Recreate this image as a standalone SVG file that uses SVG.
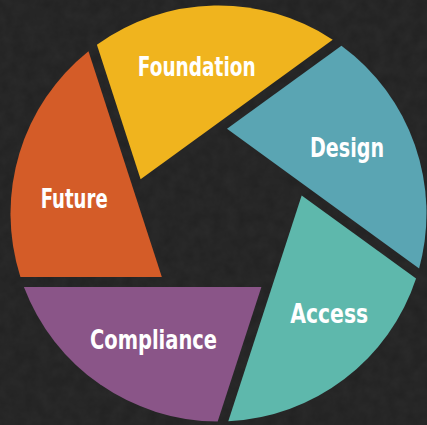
<svg xmlns="http://www.w3.org/2000/svg" width="427" height="425" viewBox="0 0 427 425">
  <style>
    .blade { stroke: none; }
    .label { font-family: "Liberation Sans Narrow", "DejaVu Sans Condensed", "Liberation Sans", sans-serif; font-weight: bold; font-size: 26px; fill: #ffffff; text-anchor: middle; }
  </style>
  <defs>
    <filter id="grain" x="0" y="0" width="100%" height="100%">
      <feTurbulence type="fractalNoise" baseFrequency="0.08" numOctaves="3" seed="7" result="n"/>
      <feColorMatrix type="matrix" values="0 0 0 0 1  0 0 0 0 1  0 0 0 0 1  0 0 0 0.045 0" />
    </filter>
    <path id="bladeShape" d="M 261.39 287 L 217.68 421.5 A 208 208 0 0 1 23.92 287 Z"/>
  </defs>
  <rect x="0" y="0" width="427" height="425" fill="#212121"/>
  <rect x="0" y="0" width="427" height="425" filter="url(#grain)"/>
  <g id="connectors"></g>
  <g id="compliance">
    <use href="#bladeShape" class="blade" fill="#8A5588"/>
    <text class="label" x="153.5" y="349.3" textLength="127" lengthAdjust="spacingAndGlyphs">Compliance</text>
  </g>
  <g id="future">
    <use href="#bladeShape" class="blade" fill="#D45C28" transform="rotate(72 218.5 213.5)"/>
    <text class="label" x="74.2" y="207.7" textLength="67" lengthAdjust="spacingAndGlyphs">Future</text>
  </g>
  <g id="foundation">
    <use href="#bladeShape" class="blade" fill="#F0B41E" transform="rotate(144 218.5 213.5)"/>
    <text class="label" x="196.8" y="76" textLength="118" lengthAdjust="spacingAndGlyphs">Foundation</text>
  </g>
  <g id="design">
    <use href="#bladeShape" class="blade" fill="#5AA5B3" transform="rotate(216 218.5 213.5)"/>
    <text class="label" x="347" y="156.7" textLength="74" lengthAdjust="spacingAndGlyphs">Design</text>
  </g>
  <g id="access">
    <use href="#bladeShape" class="blade" fill="#5EB8AC" transform="rotate(288 218.5 213.5)"/>
    <text class="label" x="329.2" y="322.7" textLength="78" lengthAdjust="spacingAndGlyphs">Access</text>
  </g>
</svg>
